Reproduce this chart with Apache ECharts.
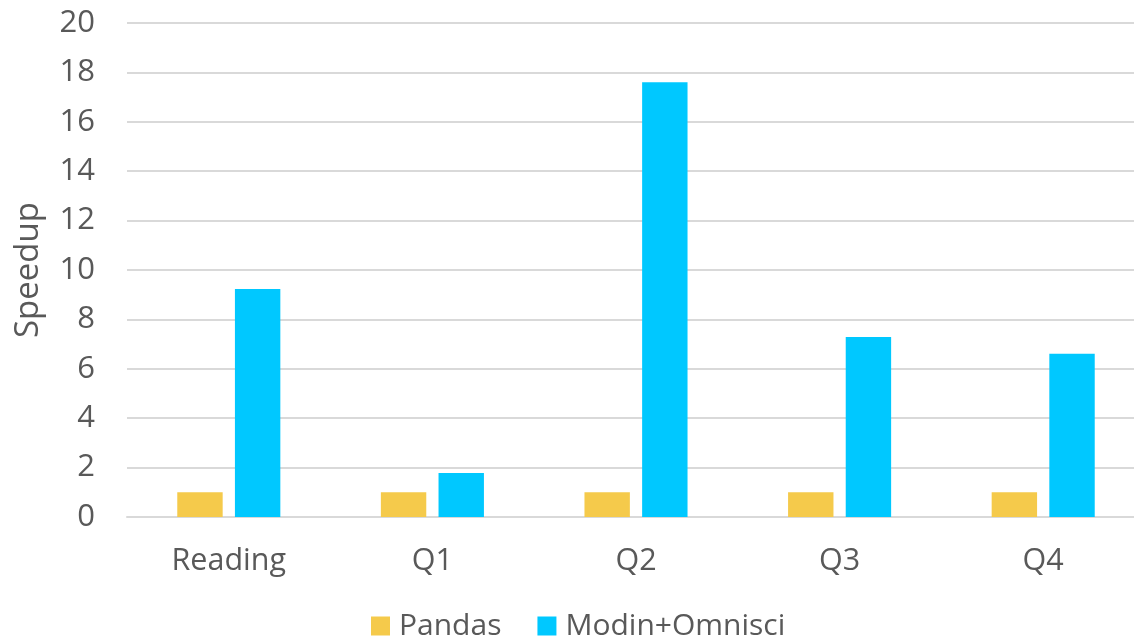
<!DOCTYPE html>
<html>
<head>
<meta charset="utf-8">
<script src="https://cdn.jsdelivr.net/npm/echarts@6/dist/echarts.min.js"></script>
<style>
  html, body { margin: 0; padding: 0; background: #fff; }
  #chart { width: 1134px; height: 637px; }
</style>
</head>
<body>
<div id="chart"></div>
<script>
const categories = ["Reading", "Q1", "Q2", "Q3", "Q4"];
const pandas = [1, 1, 1, 1, 1];
const modinOmnisci = [9.23, 1.78, 17.6, 7.29, 6.61];

const TEXT = "#595959";
const FONT = "'Open Sans', 'Noto Sans', sans-serif";

const chart = echarts.init(document.getElementById("chart"), null, { renderer: "canvas" });

chart.setOption({
  backgroundColor: "#fff",
  animation: false,
  textStyle: { fontFamily: FONT, color: TEXT },
  // plot runs past the right edge in the reference (it was cropped)
  grid: { top: 23, left: 127, width: 1018, height: 494, outerBoundsMode: "none" },
  legend: {
    top: 606,
    left: 366,
    itemWidth: 19,
    itemHeight: 19,
    itemGap: 36,
    icon: "rect",
    textStyle: { fontSize: 30, color: TEXT, fontFamily: FONT, padding: [0, 0, 0, 4] },
    data: ["Pandas", "Modin+Omnisci"],
  },
  xAxis: {
    type: "category",
    data: categories,
    axisLine: { lineStyle: { color: "#d9d9d9", width: 2 } },
    axisTick: { show: false },
    axisLabel: { color: TEXT, fontSize: 30.5, margin: 29, fontFamily: FONT },
  },
  yAxis: {
    type: "value",
    min: 0,
    max: 20,
    interval: 2,
    name: "Speedup",
    nameLocation: "middle",
    nameGap: 82,
    nameTextStyle: { color: TEXT, fontSize: 33, fontFamily: FONT },
    axisLine: { show: false },
    axisTick: { show: false },
    axisLabel: { color: TEXT, fontSize: 31, margin: 32, fontFamily: FONT },
    splitLine: { lineStyle: { color: "#d9d9d9", width: 2 } },
  },
  series: [
    {
      name: "Pandas",
      type: "bar",
      data: pandas,
      barWidth: "22.3%",
      barGap: "27%",
      itemStyle: { color: "#f5ca4b" },
    },
    {
      name: "Modin+Omnisci",
      type: "bar",
      data: modinOmnisci,
      barWidth: "22.3%",
      itemStyle: { color: "#00c8ff" },
    },
  ],
});
</script>
</body>
</html>
